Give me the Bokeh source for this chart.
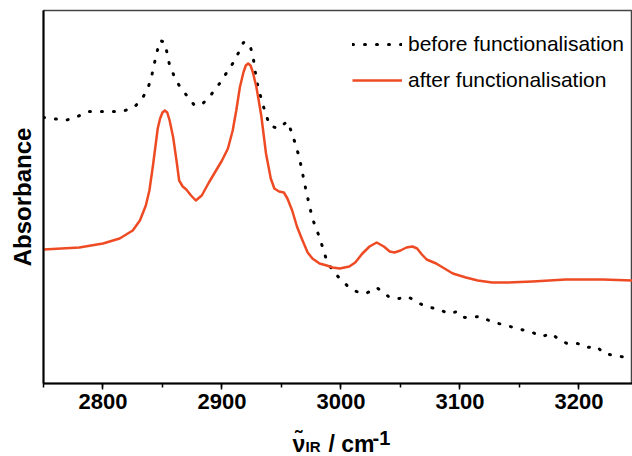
from bokeh.plotting import figure
from bokeh.layouts import column
from bokeh.models import (Range1d, SingleIntervalTicker, FixedTicker, Legend,
                          LegendItem)
from bokeh.core.properties import value
from bokeh.embed import file_html
from bokeh.resources import INLINE

# ---------------- data ----------------
wn_after = [2750, 2780, 2800, 2814, 2825, 2831, 2836, 2839, 2842, 2846, 2848,
            2850, 2852, 2854, 2856, 2859, 2862, 2864, 2867, 2870, 2874, 2878,
            2883, 2889, 2895, 2900, 2905, 2909, 2912, 2915, 2918, 2920, 2922,
            2924, 2926, 2929, 2933, 2937, 2941, 2944, 2948, 2952, 2955, 2959,
            2963, 2967, 2972, 2976, 2982, 2988, 2993, 2999, 3007, 3012, 3018,
            3024, 3030, 3036, 3041, 3045, 3050, 3055, 3060, 3064, 3068, 3072,
            3080, 3087, 3094, 3105, 3115, 3127, 3140, 3161, 3175, 3189, 3205,
            3220, 3245]
abs_after = [0.134, 0.136, 0.140, 0.145, 0.153, 0.163, 0.178, 0.193, 0.218,
             0.255, 0.265, 0.271, 0.273, 0.271, 0.263, 0.246, 0.221, 0.203,
             0.197, 0.194, 0.188, 0.183, 0.188, 0.201, 0.213, 0.223, 0.235,
             0.253, 0.273, 0.296, 0.311, 0.318, 0.320, 0.318, 0.311, 0.296,
             0.268, 0.230, 0.205, 0.195, 0.192, 0.191, 0.185, 0.173, 0.157,
             0.145, 0.131, 0.125, 0.120, 0.118, 0.116, 0.115, 0.117, 0.121,
             0.130, 0.137, 0.141, 0.137, 0.132, 0.131, 0.133, 0.136, 0.137,
             0.135, 0.129, 0.124, 0.120, 0.115, 0.110, 0.106, 0.103, 0.101,
             0.101, 0.102, 0.103, 0.104, 0.104, 0.104, 0.103]

wn_before = [2750, 2758, 2768, 2777, 2787, 2800, 2816, 2826, 2833, 2838, 2841,
             2845, 2848, 2852, 2856, 2860, 2864, 2871, 2877, 2884, 2891, 2898,
             2904, 2909, 2914, 2918, 2923, 2926, 2929, 2934, 2940, 2947, 2955,
             2959, 2965, 2971, 2976, 2982, 2988, 2993, 2999, 3006, 3013, 3021,
             3030, 3041, 3049, 3056, 3066, 3074, 3081, 3090, 3098, 3104, 3118,
             3126, 3142, 3161, 3169, 3177, 3182, 3190, 3199, 3206, 3215, 3221,
             3230, 3245]
abs_before = [0.266, 0.265, 0.263, 0.266, 0.272, 0.272, 0.272, 0.276, 0.285,
              0.296, 0.308, 0.330, 0.343, 0.341, 0.318, 0.307, 0.298, 0.287,
              0.278, 0.280, 0.289, 0.300, 0.311, 0.320, 0.331, 0.341, 0.340,
              0.328, 0.303, 0.280, 0.258, 0.255, 0.262, 0.250, 0.226, 0.191,
              0.165, 0.146, 0.123, 0.113, 0.105, 0.097, 0.092, 0.090, 0.096,
              0.086, 0.085, 0.087, 0.080, 0.076, 0.075, 0.070, 0.072, 0.066,
              0.067, 0.062, 0.057, 0.051, 0.047, 0.050, 0.045, 0.040, 0.040,
              0.036, 0.037, 0.030, 0.028, 0.025]

series_labels = ["before functionalisation", "after functionalisation"]
x_tick_interval = 100
y_label = "Absorbance"
x_label_parts = ["\u03bd\u0303", "IR", "/ cm", "-1"]

# ---------------- layout ----------------
W = 632
H_MAIN, H_LAB = 420, 36
X0, X1 = 2750, 3245
Y0, Y1 = 0.0, 0.373
BL, BT = 43, 10
FH = 373
BB = H_MAIN - BT - FH
FW = W - BL

FONT = "Liberation Sans"
RED = "#EE4B25"

p = figure(width=W, height=H_MAIN, output_backend="svg", toolbar_location=None,
           x_range=Range1d(X0, X1), y_range=Range1d(Y0, Y1),
           min_border_left=BL, min_border_right=0, min_border_top=BT,
           min_border_bottom=BB, background_fill_color="white",
           border_fill_color="white")
# frame outline gives the thin grey top edge
p.outline_line_color = "#444444"
p.outline_line_width = 1.5
p.xgrid.visible = False
p.ygrid.visible = False

# x axis
xa = p.xaxis[0]
xa.ticker = SingleIntervalTicker(interval=x_tick_interval, num_minor_ticks=2)
xa.axis_line_color = "black"
xa.axis_line_width = 2
xa.major_tick_line_color = "black"
xa.major_tick_line_width = 1.5
xa.major_tick_out = 6
xa.major_tick_in = 0
xa.minor_tick_line_color = "black"
xa.minor_tick_line_width = 1.5
xa.minor_tick_out = 4
xa.minor_tick_in = 0
xa.major_label_text_font = FONT
xa.major_label_text_font_style = "bold"
xa.major_label_text_font_size = "22px"
xa.major_label_text_color = "black"
xa.major_label_standoff = 4

# y axis
ya = p.yaxis[0]
ya.ticker = FixedTicker(ticks=[])
ya.axis_line_color = "black"
ya.axis_line_width = 2
ya.major_tick_line_color = None
ya.minor_tick_line_color = None
ya.axis_label = y_label
ya.axis_label_text_font = FONT
ya.axis_label_text_font_style = "bold"
ya.axis_label_text_font_size = "24px"
ya.axis_label_text_color = "black"
ya.axis_label_standoff = 8

r_before = p.line(wn_before, abs_before, line_color="black", line_width=3,
                  line_dash="1 11", line_cap="round")
r_after = p.line(wn_after, abs_after, line_color=RED, line_width=2.5,
                 line_join="round")

legend = Legend(items=[LegendItem(label=series_labels[0], renderers=[r_before]),
                       LegendItem(label=series_labels[1], renderers=[r_after])],
                location=(309, FH - 24 - 58), padding=0, margin=0, spacing=12,
                glyph_width=50, glyph_height=20, label_height=20,
                label_standoff=6, border_line_color=None,
                background_fill_alpha=0, label_text_font=FONT,
                label_text_font_size="21px", label_text_color="black")
p.add_layout(legend)

# ---------------- x-axis title strip (nu-tilde with sub/superscripts) -------
q = figure(width=W, height=H_LAB, output_backend="svg", toolbar_location=None,
           x_range=p.x_range, y_range=Range1d(0, H_LAB),
           x_axis_type=None, y_axis_type=None,
           min_border_left=BL, min_border_right=0, min_border_top=0,
           min_border_bottom=0, background_fill_color="white",
           border_fill_color="white")
q.outline_line_color = None


def px_to_x(px):
    return X0 + (px - BL) * (X1 - X0) / FW


page_bottom = H_MAIN + H_LAB
pieces = [
    (x_label_parts[0], 292, 443, "23px"),
    (x_label_parts[1], 305, 446, "15px"),
    (x_label_parts[2], 328, 443, "23px"),
    (x_label_parts[3], 372, 437, "20px"),
]
for txt, px, py, fs in pieces:
    q.text(x=[px_to_x(px)], y=[page_bottom - py], text=[txt],
           text_font=value(FONT), text_font_style="bold",
           text_font_size=value(fs), text_color="black",
           text_baseline="alphabetic", text_align="left")

layout = column(p, q, spacing=0)
open("out.html", "w").write(file_html(layout, INLINE))
